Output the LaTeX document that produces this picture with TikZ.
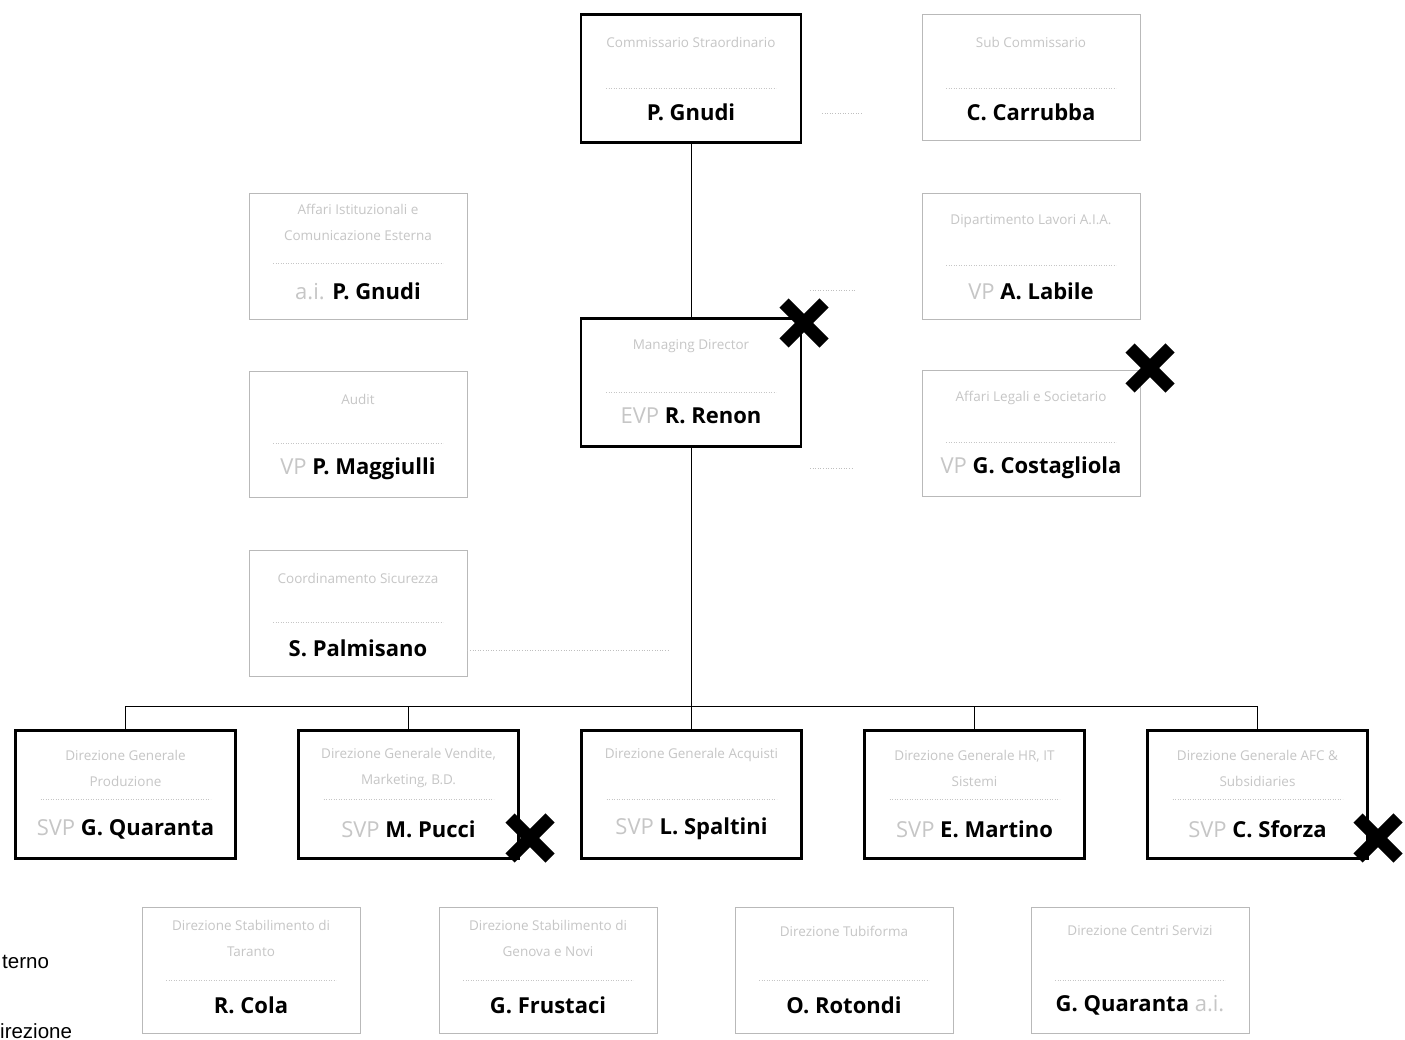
\documentclass[tikz,border=0pt]{standalone}
\usepackage{fontspec}
\setmainfont{Open Sans}
\newfontfamily\legendfont{Liberation Sans}
\begin{document}
\begin{tikzpicture}[x=1pt,y=-1pt,
  mainbox/.style={draw=black,line width=2.6pt,fill=white,minimum width=220pt,minimum height=128pt,inner sep=0pt},
  lightbox/.style={draw=gray!55,line width=0.7pt,fill=white,minimum width=218pt,minimum height=126pt,inner sep=0pt},
  ttl/.style={font=\fontsize{13.5}{26}\selectfont,text=gray!45,align=center,inner sep=0pt},
  nm/.style={font=\fontsize{22}{24}\selectfont\bfseries,text=black,inner sep=0pt},
  sepline/.style={gray!45,line width=0.5pt,dotted},
  conn/.style={black,line width=0.8pt},
  faintdot/.style={gray!50,line width=0.6pt,dotted},
  crossmark/.style={black,line width=13pt},
  side/.style={font=\legendfont\fontsize{20.5}{22}\selectfont,text=black,inner sep=0pt}
]
\newcommand\pre[1]{{\mdseries\color{gray!45}#1}}
% #1 id, #2 style, #3 cx, #4 top, #5 height, #6 title y off, #7 title, #8 sep off, #9 name
\newcommand\orgunit[9]{%
  \node[#2] (#1) at (#3,#4+#5/2) {};
  \node[ttl] (#1-t) at (#3,#4+#6) {#7};
  \draw[sepline] (#3-85,#4+#8) -- (#3+85,#4+#8);
  \node[nm] (#1-n) at (#3,#4+98) {#9};
}
\newcommand\xmk[2]{%
  \draw[crossmark] (#1-20,#2-20) -- (#1+20,#2+20);
  \draw[crossmark] (#1-20,#2+20) -- (#1+20,#2-20);
}
\clip (0,0) rectangle (1405,1040);
\fill[white] (0,0) rectangle (1405,1040);

\coordinate (bus) at (691,706);
% main boxes
\orgunit{gnudi}{mainbox}{691}{14}{129}{28}{Commissario Straordinario}{74}{P. Gnudi}
\orgunit{renon}{mainbox}{691}{318}{129}{28}{Managing Director}{74}{\pre{EVP} R. Renon}

\draw[conn] (gnudi.south) -- (renon.north);
\draw[conn] (renon.south) -- (bus);

% staff left
\orgunit{istit}{lightbox}{358}{193}{126}{29}{Affari Istituzionali e\\Comunicazione Esterna}{70}{\pre{a.i.} P. Gnudi}
\orgunit{audit}{lightbox}{358}{371}{126}{28}{Audit}{72}{\pre{VP} P. Maggiulli}
\orgunit{sicur}{lightbox}{358}{550}{127}{28}{Coordinamento Sicurezza}{72}{S. Palmisano}
% staff right
\orgunit{sub}{lightbox}{1031}{14}{126}{28}{Sub Commissario}{74}{C. Carrubba}
\orgunit{aia}{lightbox}{1031}{193}{126}{28}{Dipartimento Lavori A.I.A.}{72}{\pre{VP} A. Labile}
\orgunit{legal}{lightbox}{1031}{370}{126}{28}{Affari Legali e Societario}{72}{\pre{VP} G. Costagliola}

% faint dotted staff links
\coordinate (f1a) at (822,113); \coordinate (f1b) at (862,113);
\coordinate (f2a) at (810,290); \coordinate (f2b) at (855,290);
\coordinate (f3a) at (810,468); \coordinate (f3b) at (852,468);
\coordinate (f4b) at (670,650);
\draw[faintdot] (f1a) -- (f1b);
\draw[faintdot] (f2a) -- (f2b);
\draw[faintdot] (f3a) -- (f3b);
\draw[faintdot] (sicur.east |- f4b) -- (f4b);

% second row
\orgunit{prod}{mainbox}{125.5}{731}{127}{37}{Direzione Generale\\Produzione}{68}{\pre{SVP} G. Quaranta}
\orgunit{vend}{mainbox}{408.5}{731}{127}{37}{Direzione Generale Vendite,\\Marketing, B.D.}{68}{\pre{SVP} M. Pucci}
\orgunit{acq}{mainbox}{691.5}{731}{127}{24}{Direzione Generale Acquisti}{68}{\pre{SVP} L. Spaltini}
\orgunit{hr}{mainbox}{974.5}{731}{127}{37}{Direzione Generale HR, IT\\Sistemi}{68}{\pre{SVP} E. Martino}
\orgunit{afc}{mainbox}{1257.5}{731}{127}{37}{Direzione Generale AFC \&\\Subsidiaries}{68}{\pre{SVP} C. Sforza}

\draw[conn] (prod.north) -- (prod.north |- bus) -- (afc.north |- bus) -- (afc.north);
\draw[conn] (vend.north) -- (vend.north |- bus);
\draw[conn] (acq.north) -- (acq.north |- bus);
\draw[conn] (hr.north) -- (hr.north |- bus);

% third row
\orgunit{taranto}{lightbox}{251}{907}{126}{31}{Direzione Stabilimento di\\Taranto}{73}{R. Cola}
\orgunit{genova}{lightbox}{548}{907}{126}{31}{Direzione Stabilimento di\\Genova e Novi}{73}{G. Frustaci}
\orgunit{tubi}{lightbox}{844}{907}{126}{24}{Direzione Tubiforma}{73}{O. Rotondi}
\orgunit{centri}{lightbox}{1140}{907}{126}{24}{Direzione Centri Servizi}{73}{G. Quaranta \pre{a.i.}}

% cross marks
\xmk{804}{323}
\xmk{1150}{368}
\xmk{530}{838}
\xmk{1378}{838}

% side legend text
\node[side,anchor=west] (lg1) at (2,962) {terno};
\node[side,anchor=base west] (lg2) at (0,1038) {irezione};
\end{tikzpicture}
\end{document}
